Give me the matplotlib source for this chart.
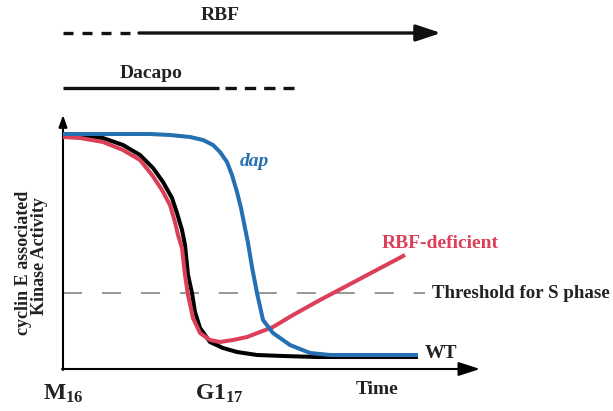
"""
Schematic: cyclin E associated kinase activity from M16 to G1 17
(WT, dap, RBF-deficient) with the RBF / Dacapo activity bars on top.
"""

import matplotlib
matplotlib.use("Agg")
import matplotlib.pyplot as plt

plt.rcParams["font.family"] = ["Liberation Serif", "DejaVu Serif"]
plt.rcParams["font.weight"] = "bold"
plt.rcParams["mathtext.fontset"] = "custom"
plt.rcParams["mathtext.rm"] = "Liberation Serif:bold"
plt.rcParams["mathtext.bf"] = "Liberation Serif:bold"
plt.rcParams["mathtext.it"] = "Liberation Serif:italic:bold"

BLUE = "#2470b2"
RED = "#dc3f58"
GREY = "#7a7a7a"
TXT = "#222222"
FS = 14

# Curves (time, activity) in arbitrary schematic units
wt_time = [0, 17, 40, 60, 77, 90, 100, 109, 114, 119, 122, 125, 129, 132,
           137, 147, 160, 174, 194, 220, 254, 355]
wt_act = [234, 233, 231, 224, 214, 201, 187, 171, 156, 139, 124, 94, 76, 57,
          41, 27, 21, 17, 14, 13, 12, 12]

dap_time = [0, 87, 107, 127, 140, 150, 157, 164, 169, 174, 178, 182, 185,
            189, 194, 200, 210, 227, 247, 267, 355]
dap_act = [235, 235, 234, 232, 229, 224, 217, 207, 194, 177, 161, 141, 126,
           102, 76, 49, 36, 24, 16, 14, 14]

rbf_time = [0, 17, 40, 60, 77, 89, 99, 107, 112, 115, 119, 122, 125, 130,
            137, 147, 157, 170, 184, 197, 210, 230, 257, 342]
rbf_act = [232, 231, 227, 219, 209, 194, 179, 164, 147, 134, 121, 94, 74, 51,
           36, 29, 27, 29, 32, 37, 42, 54, 69, 114]

threshold = 76
threshold_span = [0, 362]

# Activity bars above the plot (start, end)
rbf_dashed = [0, 72]
rbf_solid = [76, 378]
dacapo_solid = [0, 156]
dacapo_dashed = [162, 231]
rbf_bar_y = 336
dacapo_bar_y = 281

x_axis_end = 417
y_axis_end = 254

fig = plt.figure(figsize=(6.13, 4.11), dpi=100)
ax = fig.add_axes([0, 0, 1, 1])
ax.set_xlim(-63, 550)
ax.set_ylim(-42, 369)
ax.axis("off")

# threshold
ax.plot(threshold_span, [threshold, threshold], color=GREY, lw=1.1,
        dashes=(12.5, 13.0))
ax.text(369, threshold, "Threshold for S phase", fontsize=13.6,
        ha="left", va="center", color=TXT)

# curves
line_kw = dict(lw=2.9, solid_capstyle="butt", solid_joinstyle="round")
ax.plot(wt_time, wt_act, color="black", zorder=3, **line_kw)
ax.plot(rbf_time, rbf_act, color=RED, zorder=4, **line_kw)
ax.plot(dap_time, dap_act, color=BLUE, zorder=5, **line_kw)

# axes with arrows
ax.annotate("", xy=(0, y_axis_end), xytext=(0, -1),
            arrowprops=dict(arrowstyle="-|>,head_length=0.7,head_width=0.25",
                            lw=1.5, color="black", shrinkA=0, shrinkB=0))
ax.annotate("", xy=(x_axis_end, 0), xytext=(-1, 0),
            arrowprops=dict(arrowstyle="-|>,head_length=1.3,head_width=0.42",
                            lw=1.5, color="black", shrinkA=0, shrinkB=0))

# RBF bar
ax.plot(rbf_dashed, [rbf_bar_y] * 2, color="#111111", lw=2.4,
        dashes=(3.0, 2.7))
ax.annotate("", xy=(rbf_solid[1], rbf_bar_y), xytext=(rbf_solid[0], rbf_bar_y),
            arrowprops=dict(arrowstyle="-|>,head_length=0.75,head_width=0.25",
                            mutation_scale=20, lw=2.4, color="#111111",
                            shrinkA=0, shrinkB=0))
ax.text(157, 353, "RBF", fontsize=FS, ha="center", va="center", color=TXT)

# Dacapo bar
ax.plot(dacapo_solid, [dacapo_bar_y] * 2, color="#111111", lw=2.4,
        solid_capstyle="butt")
ax.plot(dacapo_dashed, [dacapo_bar_y] * 2, color="#111111", lw=2.4,
        dashes=(3.4, 2.4))
ax.text(88, 296, "Dacapo", fontsize=FS, ha="center", va="center", color=TXT)

# labels
ax.text(191, 207, "dap", fontsize=FS, style="italic", ha="center",
        va="center", color=BLUE)
ax.text(377, 126, "RBF-deficient", fontsize=FS, ha="center", va="center",
        color=RED)
ax.text(362, 16, "WT", fontsize=FS, ha="left", va="center", color=TXT)
ax.text(314, -20, "Time", fontsize=FS, ha="center", va="center", color=TXT)
ax.text(-20, -31, r"$\mathbf{M}_{\mathbf{16}}$", fontsize=17, ha="left",
        va="baseline", color=TXT)
ax.text(132, -31, r"$\mathbf{G1}_{\mathbf{17}}$", fontsize=17, ha="left",
        va="baseline", color=TXT)

ax.text(-39, 106, "cyclin E associated", fontsize=13, rotation=90,
        ha="center", va="center", color=TXT)
ax.text(-23, 113, "Kinase Activity", fontsize=13, rotation=90,
        ha="center", va="center", color=TXT)

fig.savefig("out.png", dpi=100)
